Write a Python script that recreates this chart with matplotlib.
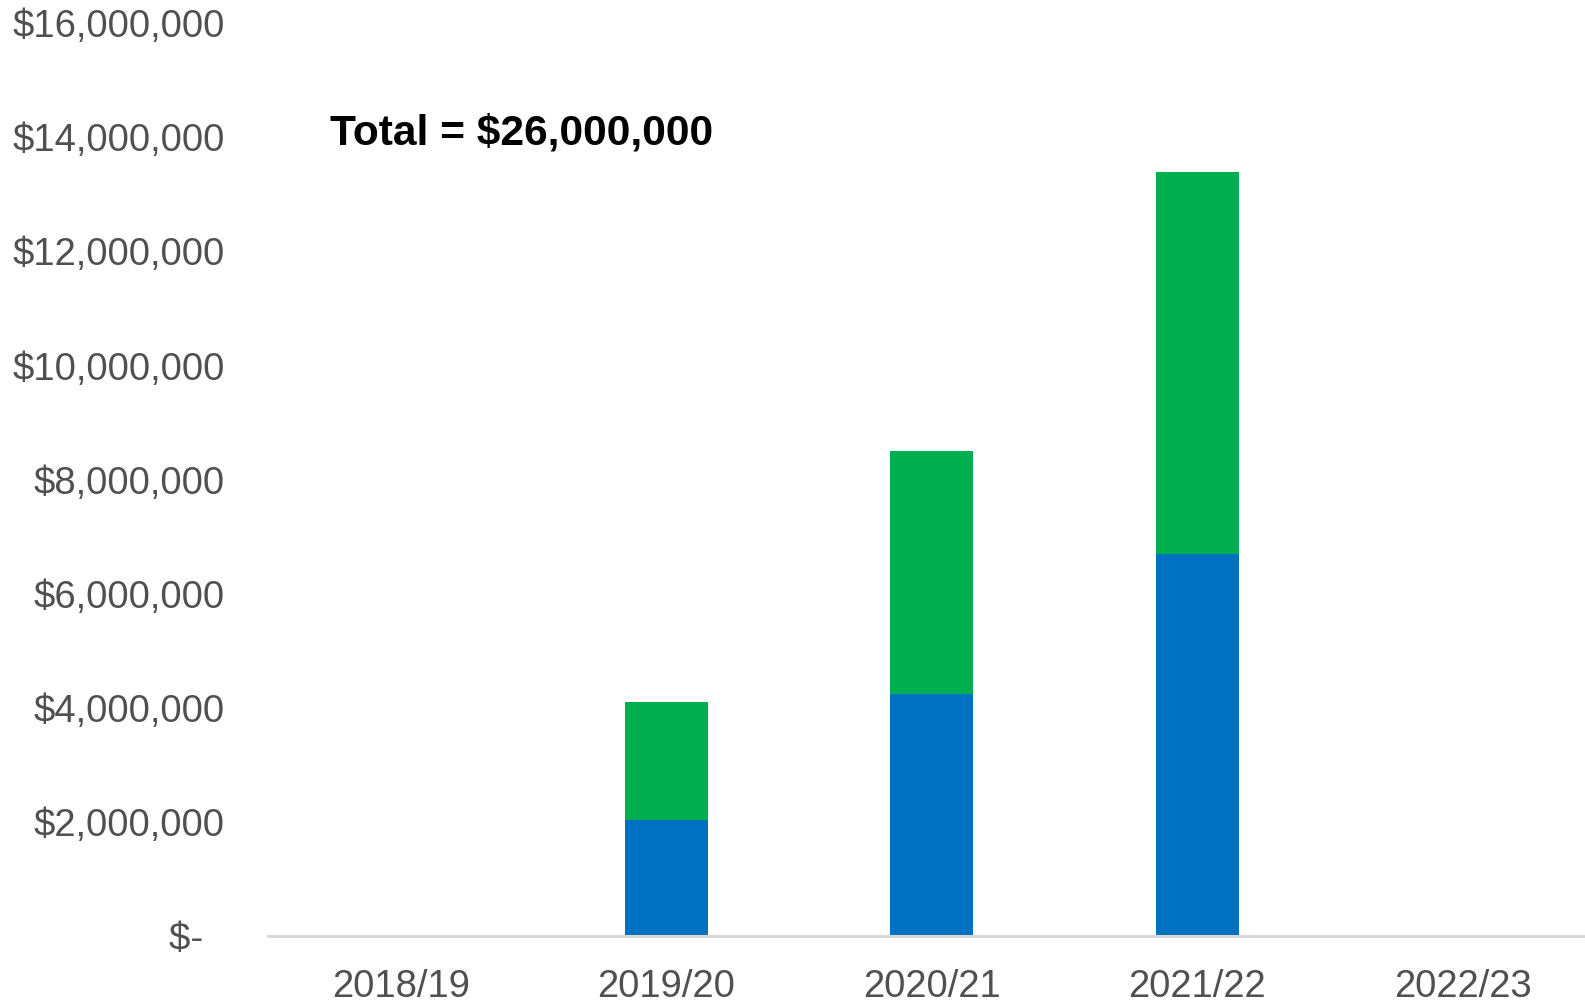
import matplotlib
matplotlib.use("Agg")
import matplotlib.pyplot as plt
from matplotlib.ticker import FuncFormatter, MultipleLocator

plt.rcParams['font.family'] = ['Liberation Sans', 'DejaVu Sans']

# funding by year, two streams stacked
years = ['2018/19', '2019/20', '2020/21', '2021/22', '2022/23']
stream_a = [0, 2030000, 4240000, 6690000, 0]
stream_b = [0, 2070000, 4260000, 6710000, 0]
total_label = 'Total = $26,000,000'

blue = '#0070C0'
green = '#00B050'
grey = '#505050'

fig = plt.figure(figsize=(15.85, 10.02), dpi=100)
ax = fig.add_axes([0.1691, 0.0659, 0.8375, 0.9109])

x = range(len(years))
ax.bar(x, stream_a, width=0.312, color=blue, linewidth=0)
ax.bar(x, stream_b, width=0.312, bottom=stream_a, color=green, linewidth=0)

ax.set_xlim(-0.5, len(years) - 0.5)
ax.set_ylim(0, 16000000)
ax.yaxis.set_major_locator(MultipleLocator(2000000))


def money(v, pos):
    if v == 0:
        return '$-  '
    return '${:,.0f}'.format(v)


ax.yaxis.set_major_formatter(FuncFormatter(money))
ax.set_xticks(list(x))
ax.set_xticklabels(years)

for side in ['top', 'right', 'left']:
    ax.spines[side].set_visible(False)
ax.spines['bottom'].set_color('#d9d9d9')
ax.spines['bottom'].set_linewidth(2.2)

ax.tick_params(axis='y', length=0, pad=31, labelsize=27.5, labelcolor=grey)
ax.tick_params(axis='x', length=0, pad=23.5, labelsize=27.5, labelcolor=grey)

ax.text(-0.266, 14070000, total_label, fontsize=30.6, fontweight='bold',
        color='black', ha='left', va='center')

plt.savefig('out.png', dpi=100)
plt.close()
